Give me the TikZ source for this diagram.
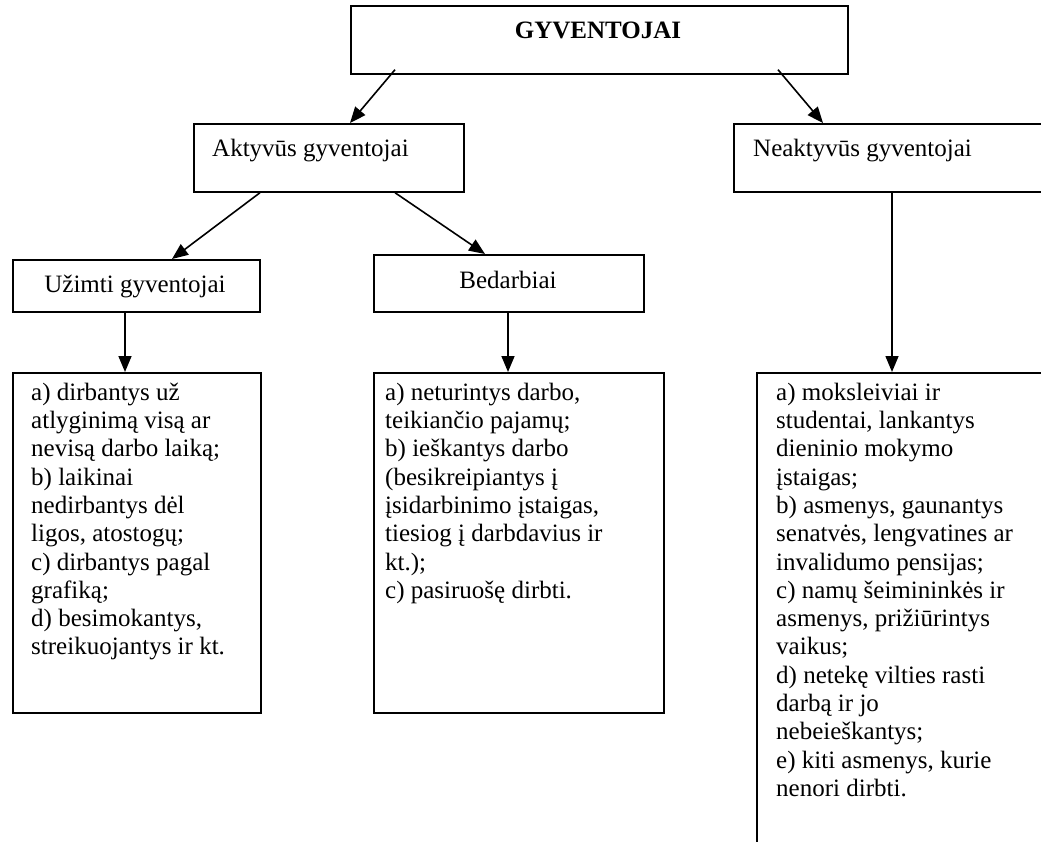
\documentclass[tikz,border=0pt]{standalone}
\usepackage{fontspec}
\setmainfont{Liberation Serif}
\usetikzlibrary{arrows.meta}

\begin{document}
\begin{tikzpicture}[x=1pt,y=-1pt,
  box/.style={draw, line width=1.7pt, inner sep=0pt, anchor=north west},
  txt/.style={inner sep=0pt, anchor=base west, align=left,
    font=\fontsize{25}{28.3}\selectfont},
  para/.style={inner sep=0pt, anchor=north west, align=left,
    font=\fontsize{25}{28.3}\selectfont},
  arr/.style={line width=1.6pt, -{Triangle[length=16pt,width=13pt]}}]
\useasboundingbox (0,0) rectangle (1041,842);
\clip (0,0) rectangle (1041,842);

% top level
\node[box, minimum width=497pt, minimum height=68pt] (top) at (350,5) {};
\node[txt, anchor=base, font=\fontsize{25}{28.3}\selectfont\bfseries] (top-t) at (598,39) {GYVENTOJAI};

% second level
\node[box, minimum width=270pt, minimum height=68pt] (akt) at (193,123) {};
\node[txt] (akt-t) at (212,157) {Aktyvūs gyventojai};

\node[box, minimum width=340pt, minimum height=68pt] (neak) at (733,123) {};
\node[txt] (neak-t) at (753,157) {Neaktyvūs gyventojai};

% third level
\node[box, minimum width=247pt, minimum height=52pt] (uz) at (12,259) {};
\node[txt, anchor=base] (uz-t) at (135,293) {Užimti gyventojai};

\node[box, minimum width=270pt, minimum height=57pt] (bed) at (373,254) {};
\node[txt, anchor=base] (bed-t) at (508,288) {Bedarbiai};

% description boxes (first baseline at y = 400)
\node[box, minimum width=248pt, minimum height=340pt] (uz-d) at (12,372) {};
\node[para] (uz-dt) at (31,380.2) {\strut a) dirbantys už\\
atlyginimą visą ar\\
nevisą darbo laiką;\\
b) laikinai\\
nedirbantys dėl\\
ligos, atostogų;\\
c) dirbantys pagal\\
grafiką;\\
d) besimokantys,\\
streikuojantys ir kt.};

\node[box, minimum width=290pt, minimum height=340pt] (bed-d) at (373,372) {};
\node[para] (bed-dt) at (385,380.2) {\strut a) neturintys darbo,\\
teikiančio pajamų;\\
b) ieškantys darbo\\
(besikreipiantys į\\
įsidarbinimo įstaigas,\\
tiesiog į darbdavius ir\\
kt.);\\
c) pasiruošę dirbti.};

\node[box, minimum width=320pt, minimum height=500pt] (neak-d) at (756,372) {};
\node[para] (neak-dt) at (776,380.2) {\strut a) moksleiviai ir\\
studentai, lankantys\\
dieninio mokymo\\
įstaigas;\\
b) asmenys, gaunantys\\
senatvės, lengvatines ar\\
invalidumo pensijas;\\
c) namų šeimininkės ir\\
asmenys, prižiūrintys\\
vaikus;\\
d) netekę vilties rasti\\
darbą ir jo\\
nebeieškantys;\\
e) kiti asmenys, kurie\\
nenori dirbti.};

% connectors
\draw[arr] ([xshift=45pt,yshift=5pt]top.south west) -- ([xshift=157pt]akt.north west);
\draw[arr] ([xshift=428pt,yshift=5pt]top.south west) -- ([xshift=90pt]neak.north west);
\draw[arr] ([xshift=67pt]akt.south west) -- ([xshift=160pt]uz.north west);
\draw[arr] ([xshift=202pt]akt.south west) -- ([xshift=112pt]bed.north west);
\draw[arr] ([xshift=113pt]uz.south west) -- ([xshift=113pt]uz-d.north west);
\draw[arr] ([xshift=135pt]bed.south west) -- ([xshift=135pt]bed-d.north west);
\draw[arr] ([xshift=159pt]neak.south west) -- ([xshift=136pt]neak-d.north west);
\end{tikzpicture}
\end{document}
